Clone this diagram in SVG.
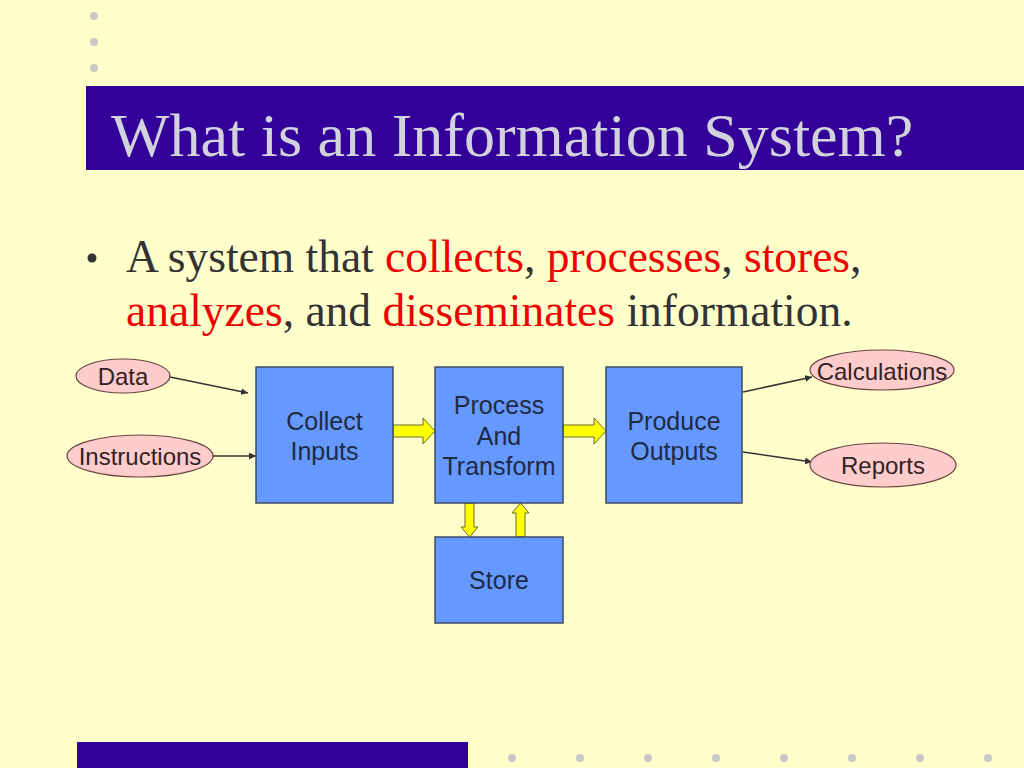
<svg xmlns="http://www.w3.org/2000/svg" width="1024" height="768" viewBox="0 0 1024 768">
<defs>
<style>
.box{fill:#6699ff;stroke:#3d4a66;stroke-width:1.5}
.oval{fill:#ffcccc;stroke:#6b4444;stroke-width:1.2}
.bt{font-family:"Liberation Sans",Arial,sans-serif;font-size:25px;fill:#1e2a44;text-anchor:middle}
.ot{font-family:"Liberation Sans",Arial,sans-serif;font-size:24px;fill:#332222;text-anchor:middle}
.ya{fill:#ffff00;stroke:#6b6b2a;stroke-width:1}
.ln{stroke:#333333;stroke-width:1.5;fill:none;marker-end:url(#ah)}
.dot{fill:#c8c8c8}
.body{font-family:"Liberation Serif","Times New Roman",serif;font-size:45.5px;fill:#333333}
.red{fill:#ee0000}
</style>
<marker id="ah" viewBox="0 0 10 10" refX="10" refY="5" markerWidth="7" markerHeight="7" markerUnits="userSpaceOnUse" orient="auto">
<path d="M0,0 L10,5 L0,10 z" fill="#333333"/>
</marker>
</defs>
<rect width="1024" height="768" fill="#ffffcc"/>
<g id="decor">
<circle class="dot" cx="94" cy="16" r="4"/>
<circle class="dot" cx="94" cy="42" r="4"/>
<circle class="dot" cx="94" cy="68" r="4"/>
<rect x="86" y="86" width="938" height="84" fill="#330099"/>
<rect x="77" y="742" width="391" height="26" fill="#330099"/>
<circle class="dot" cx="512" cy="758" r="4"/>
<circle class="dot" cx="580" cy="758" r="4"/>
<circle class="dot" cx="648" cy="758" r="4"/>
<circle class="dot" cx="716" cy="758" r="4"/>
<circle class="dot" cx="784" cy="758" r="4"/>
<circle class="dot" cx="852" cy="758" r="4"/>
<circle class="dot" cx="920" cy="758" r="4"/>
<circle class="dot" cx="988" cy="758" r="4"/>
</g>
<text id="title" x="111" y="156" font-family="'Liberation Serif','Times New Roman',serif" font-size="62" fill="#d2d2dc">What is an Information System?</text>
<g id="bullet">
<circle cx="92" cy="258" r="4.5" fill="#333333"/>
<text class="body" x="126" y="272">A system that <tspan class="red">collects</tspan>, <tspan class="red">processes</tspan>, <tspan class="red">stores</tspan>,</text>
<text class="body" x="126" y="326"><tspan class="red">analyzes</tspan>, and <tspan class="red">disseminates</tspan> information.</text>
</g>
<g id="connectors">
<line class="ln" x1="170" y1="377" x2="248" y2="393"/>
<line class="ln" x1="213" y1="456" x2="256" y2="456"/>
<line class="ln" x1="743" y1="392" x2="812" y2="377"/>
<line class="ln" x1="743" y1="452" x2="812" y2="462"/>
<path class="ya" d="M393,425 L423,425 L423,418 L435,431 L423,444 L423,437 L393,437 Z"/>
<path class="ya" d="M563,425 L594,425 L594,418 L606,431 L594,444 L594,437 L563,437 Z"/>
<path class="ya" d="M465,503 L474,503 L474,527 L478,527 L469.5,537 L461,527 L465,527 Z"/>
<path class="ya" d="M516,537 L525,537 L525,513 L529,513 L520.5,503 L512,513 L516,513 Z"/>
</g>
<g id="data">
<ellipse class="oval" cx="123" cy="376" rx="47" ry="17"/>
<text class="ot" x="123" y="385">Data</text>
</g>
<g id="instructions">
<ellipse class="oval" cx="140" cy="456" rx="73" ry="21"/>
<text class="ot" x="140" y="465">Instructions</text>
</g>
<g id="collect">
<rect class="box" x="256" y="367" width="137" height="136"/>
<text class="bt" x="324.5" y="430">Collect</text>
<text class="bt" x="324.5" y="460">Inputs</text>
</g>
<g id="process">
<rect class="box" x="435" y="367" width="128" height="136"/>
<text class="bt" x="499" y="414">Process</text>
<text class="bt" x="499" y="445">And</text>
<text class="bt" x="499" y="475">Transform</text>
</g>
<g id="produce">
<rect class="box" x="606" y="367" width="136" height="136"/>
<text class="bt" x="674" y="430">Produce</text>
<text class="bt" x="674" y="460">Outputs</text>
</g>
<g id="store">
<rect class="box" x="435" y="537" width="128" height="86"/>
<text class="bt" x="499" y="589">Store</text>
</g>
<g id="calculations">
<ellipse class="oval" cx="882" cy="370" rx="72" ry="20"/>
<text class="ot" x="882" y="380">Calculations</text>
</g>
<g id="reports">
<ellipse class="oval" cx="883" cy="465" rx="73" ry="22"/>
<text class="ot" x="883" y="474">Reports</text>
</g>
</svg>
